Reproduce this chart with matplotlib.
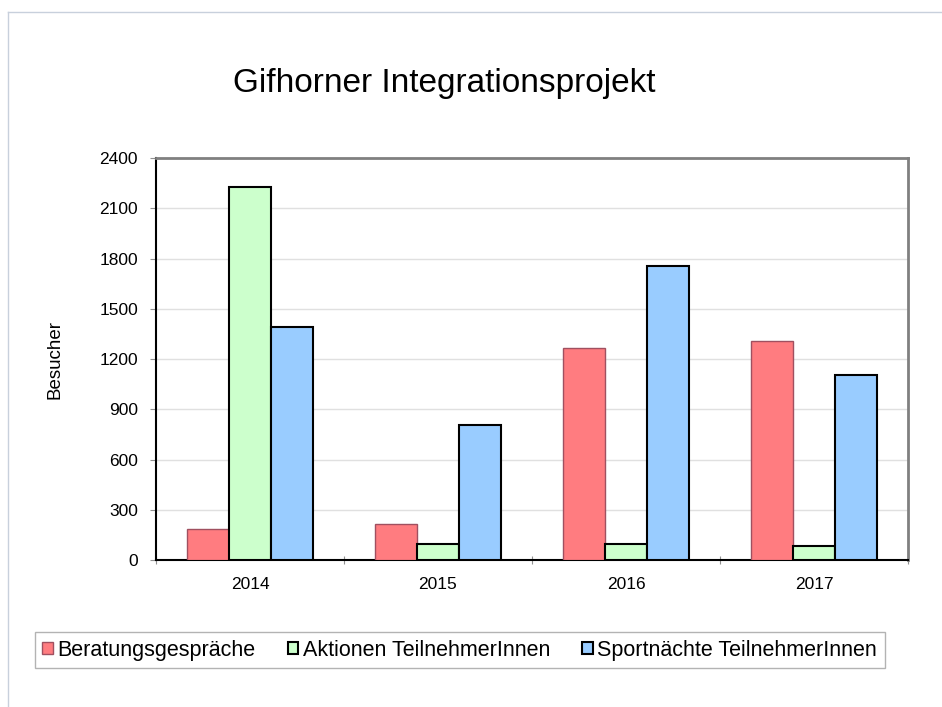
import numpy as np
import matplotlib
matplotlib.use("Agg")
import matplotlib.pyplot as plt
from matplotlib.lines import Line2D

plt.rcParams['font.family'] = ['Liberation Sans', 'DejaVu Sans']

years = ["2014", "2015", "2016", "2017"]
beratung = [183, 213, 1268, 1309]
aktionen = [2229, 95, 97, 85]
sport = [1393, 809, 1758, 1103]
series_names = ["Beratungsgespräche", "Aktionen TeilnehmerInnen", "Sportnächte TeilnehmerInnen"]
colors = ["#ff7c80", "#ccffcc", "#99ccff"]
edges = ["#a05060", "black", "black"]

fig = plt.figure(figsize=(9.42, 7.07), dpi=100)
ax = fig.add_axes([0.1656, 0.2079, 0.7983, 0.5686])

x = np.arange(len(years))
w = 0.222
for i, (vals, c, ec) in enumerate(zip([beratung, aktionen, sport], colors, edges)):
    ax.bar(x + (i - 1) * w, vals, width=w, color=c, edgecolor=ec,
           linewidth=1.0 if i == 0 else 1.5, label=series_names[i], zorder=3)

ax.set_xlim(-0.5, len(years) - 0.5)
ax.set_ylim(0, 2400)
ax.set_yticks(range(0, 2401, 300))
ax.yaxis.grid(True, color="#e0e0e0", linewidth=1, zorder=0)

# x ticks at group boundaries, labels centered
ax.set_xticks(np.arange(-0.5, len(years)), minor=False)
ax.set_xticklabels([])
ax.set_xticks(x, minor=True)
ax.set_xticklabels(years, minor=True)
ax.tick_params(axis="x", which="minor", length=0, pad=12, labelsize=12.5)
ax.tick_params(axis="x", which="major", length=6, color="#909090", direction="inout")
ax.tick_params(axis="y", length=4, color="#909090", labelsize=12.5, pad=9)

ax.spines["left"].set_color("black")
ax.spines["bottom"].set_color("black")
ax.spines["left"].set_linewidth(1.5)
ax.spines["bottom"].set_linewidth(1.5)
ax.spines["top"].set_color("#808080")
ax.spines["right"].set_color("#808080")
ax.spines["top"].set_linewidth(2)
ax.spines["right"].set_linewidth(2)

ax.set_ylabel("Besucher", fontsize=13.5, labelpad=26)

fig.text(0.4713, 0.8826, "Gifhorner Integrationsprojekt", fontsize=24,
         ha="center", va="center")

# legend
leg = fig.legend(loc="center", bbox_to_anchor=(0.488, 0.080), ncol=3,
                 fontsize=15.5, handlelength=0.5, handleheight=0.5,
                 handletextpad=0.2, columnspacing=1.5, frameon=True,
                 fancybox=False, borderpad=0.35)
leg.get_frame().set_edgecolor("#a0a0a0")
leg.get_frame().set_linewidth(1)

# outer frame lines
fig.add_artist(Line2D([8 / 942, 8 / 942], [0, 1 - 12 / 707], color="#c8d0dc",
                      linewidth=1, transform=fig.transFigure))
fig.add_artist(Line2D([8 / 942, 1], [1 - 12 / 707, 1 - 12 / 707], color="#c8d0dc",
                      linewidth=1, transform=fig.transFigure))

fig.savefig("out.png", dpi=100)
